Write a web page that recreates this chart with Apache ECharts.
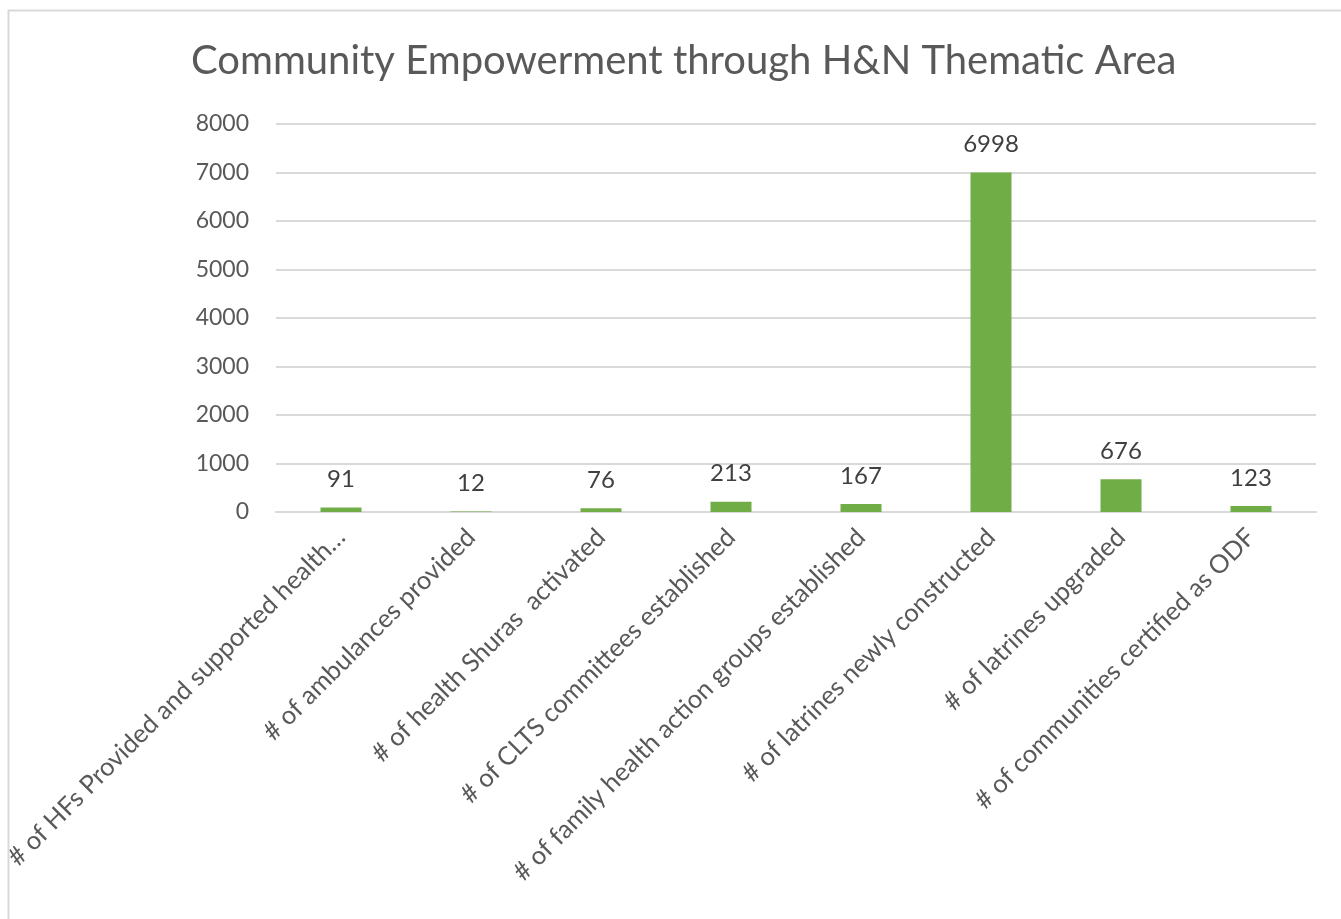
<!DOCTYPE html>
<html>
<head>
<meta charset="utf-8">
<script src="https://cdn.jsdelivr.net/npm/echarts@6/dist/echarts.min.js"></script>
<style>
html,body{margin:0;padding:0;background:#fff;}
#chart{width:1341px;height:919px;}
</style>
</head>
<body>
<div id="chart"></div>
<script>
const titleText = "Community Empowerment through H&N Thematic Area";
const categories = [
  "# of HFs Provided and supported health…",
  "# of ambulances provided",
  "# of health Shuras  activated",
  "# of CLTS committees established",
  "# of family health action groups established",
  "# of latrines newly constructed",
  "# of latrines upgraded",
  "# of communities certified as ODF"
];
const values = [91, 12, 76, 213, 167, 6998, 676, 123];
const yTicks = [0, 1000, 2000, 3000, 4000, 5000, 6000, 7000, 8000];

const chart = echarts.init(document.getElementById('chart'), null, {renderer: 'canvas'});
const FONT = "Lato, 'Open Sans', sans-serif";
chart.setOption({
  animation: false,
  backgroundColor: '#ffffff',
  title: {
    text: titleText,
    left: 186,
    top: 36,
    textStyle: {fontFamily: FONT, fontSize: 40, fontWeight: 'normal', color: '#595959'}
  },
  graphic: [{
    type: 'rect',
    shape: {x: 8.5, y: 10.5, width: 1400, height: 1000},
    style: {fill: 'none', stroke: '#D9D9D9', lineWidth: 2},
    silent: true
  }],
  grid: {left: 276, right: 25, top: 124, bottom: 407, containLabel: false},
  xAxis: {
    type: 'category',
    data: categories,
    axisLine: {show: true, lineStyle: {color: '#D9D9D9', width: 2}},
    axisTick: {show: false},
    axisLabel: {
      rotate: 45,
      interval: 0,
      margin: 21,
      verticalAlign: 'middle',
      fontFamily: FONT,
      fontSize: 25.5,
      color: '#595959'
    }
  },
  yAxis: {
    type: 'value',
    min: yTicks[0],
    max: yTicks[yTicks.length - 1],
    interval: 1000,
    axisLine: {show: false},
    axisTick: {show: false},
    splitLine: {lineStyle: {color: '#D9D9D9', width: 2}},
    axisLabel: {margin: 27, fontFamily: FONT, fontSize: 23, color: '#595959', formatter: v => String(v)}
  },
  series: [{
    type: 'bar',
    data: values,
    barWidth: 41,
    itemStyle: {color: '#70AD47'},
    label: {
      show: true,
      position: 'top',
      distance: 16,
      fontFamily: FONT,
      fontSize: 24,
      color: '#404040'
    }
  }]
});
</script>
</body>
</html>
